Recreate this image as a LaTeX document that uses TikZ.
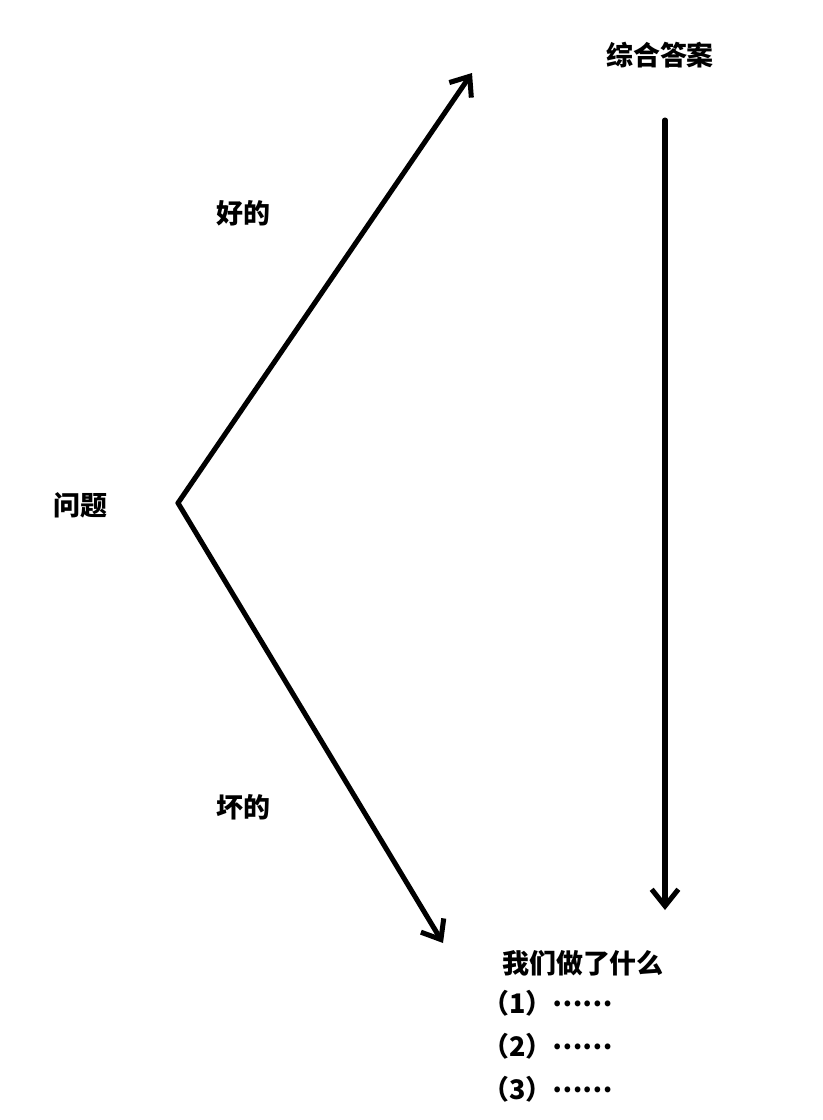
\documentclass[tikz,border=0pt]{standalone}
\usepackage{fontspec}
\newfontfamily\cjk{Noto Sans CJK SC}
\usetikzlibrary{arrows.meta}

\begin{document}
\begin{tikzpicture}[x=0.03cm,y=-0.03cm,
    lbl/.style={font=\cjk\bfseries\fontsize{23}{27}\selectfont,inner sep=0pt},
    arr/.style={line width=4.3pt,line cap=round,line join=round,-{Straight Barb[length=5mm,width=8mm,line width=4.3pt]}}]
      \useasboundingbox (0,0) rectangle (823,1120);
      \node[lbl] (wenti) at (80,505){问题};
      \node[lbl] (hao) at (243,213){好的};
      \node[lbl] (huai) at (243,807){坏的};
      \node[lbl] (zonghe) at (660,55){综合答案};
      \node[lbl] (women) at (583,963){我们做了什么};
      \foreach \i/\y in {1/1003,2/1046,3/1089}
      {\node[lbl,anchor=west] (item\i) at (482,\y){（\i）\raisebox{0.25em}{……}};}
      \coordinate (q) at (178,503);\coordinate (up) at (472,73);\coordinate (down) at (443,943);
      \coordinate (vtop) at (665,120);\coordinate (vbot) at (665,910);
      \draw[arr] (q) -- (up);\draw[arr] (q) -- (down);\draw[arr] (vtop) -- (vbot);
    \end{tikzpicture}
\end{document}
